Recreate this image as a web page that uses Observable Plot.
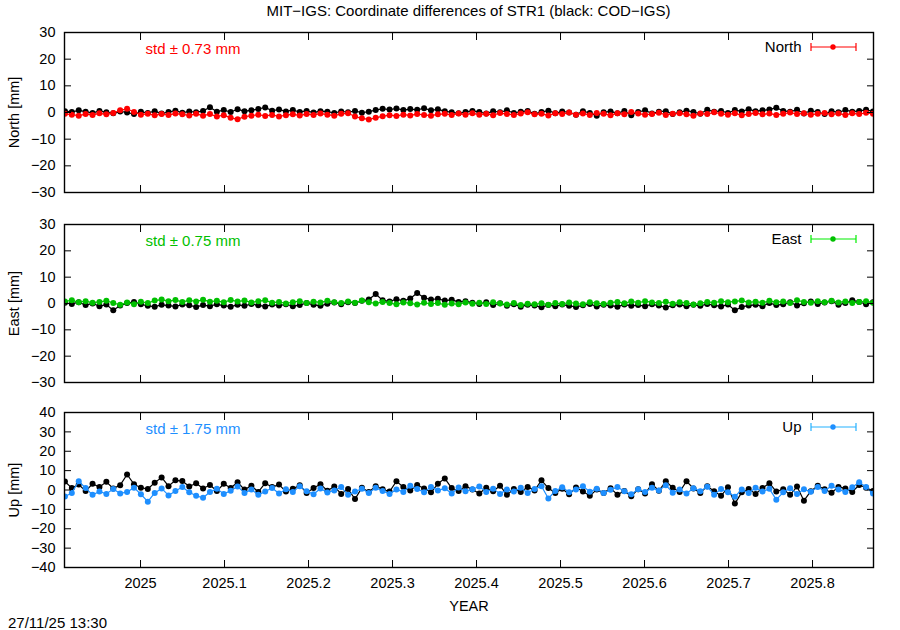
<!DOCTYPE html>
<html><head><meta charset="utf-8">
<script src="https://cdn.jsdelivr.net/npm/d3@7"></script>
<script src="https://cdn.jsdelivr.net/npm/@observablehq/plot@0.6"></script>
<style>
body{margin:0;background:#fff;}
#chart{position:relative;width:900px;height:630px;font-family:"Liberation Sans",Arial,sans-serif;font-size:15px;color:#000;overflow:hidden;background:#fff}
#chart svg{position:absolute;left:0}
.lbl{position:absolute;white-space:nowrap;line-height:1}
</style></head><body><div id="chart"></div>
<script>
const FONT = '"Liberation Sans", Arial, sans-serif';
const TITLE = "MIT\u2212IGS: Coordinate differences of STR1 (black: COD\u2212IGS)";
const CAPTION = "27/11/25 13:30";
const X_DOMAIN = [2024.9095, 2025.8726];
const T0 = 2024.91, T1 = 2025.872;
const xTicks = [2025, 2025.1, 2025.2, 2025.3, 2025.4, 2025.5, 2025.6, 2025.7, 2025.8];
const yTicksNE = [-30, -20, -10, 0, 10, 20, 30];
const yTicksU = [-40, -30, -20, -10, 0, 10, 20, 30, 40];

// North [mm]
const northMIT = [
 -0.5,-0.8,-1.2,-0.6,-0.9,-0.3,-0.7,-0.2,0.8,1.4,
 0.2,-0.8,-0.5,-1.0,-0.6,-0.9,-0.4,-0.7,-1.1,-0.5,
 -1.2,-0.6,-1.5,-1.0,-2.0,-2.5,-1.6,-1.2,-0.8,-1.3,
 -0.9,-1.5,-1.0,-0.7,-1.1,-0.6,-0.9,-0.4,-0.8,-1.2,
 -0.5,-0.3,-1.5,-2.2,-2.6,-2.0,-1.4,-1.0,-1.3,-0.8,
 -1.1,-0.6,-0.9,-1.2,-0.7,-0.5,-0.9,-0.4,-0.8,-0.3,
 -0.8,-0.5,-1.0,-0.2,-0.6,-0.9,-0.4,0.1,-0.7,-0.5,
 -1.1,-0.3,-0.6,0.0,-0.8,-0.4,-0.9,-0.2,-0.5,-1.0,
 -0.3,-0.7,0.2,-0.4,-0.8,-0.6,-0.1,-0.9,-0.5,-0.3,
 -0.7,-1.2,-0.4,-0.6,0.1,-0.5,-0.8,-0.3,-1.0,-0.6,
 -0.2,-0.7,-0.4,-0.9,-0.5,0.0,-0.6,-0.3,-0.8,-0.5,
 -0.2,-0.7,-0.4,-0.9,-0.3,-0.6,-0.1,-0.5];
const northCOD = [
 0.5,0.2,0.8,0.3,-0.2,0.6,0.1,-0.3,0.4,0.0,
 -0.6,0.3,-0.2,0.5,-0.4,0.2,0.7,-0.1,0.4,0.1,
 0.6,2.0,0.3,0.9,0.2,1.2,0.5,0.8,1.3,1.9,
 0.7,1.1,0.4,0.9,0.2,0.6,0.0,0.5,0.3,-0.2,
 0.4,0.1,0.6,-0.1,0.3,0.9,1.4,1.1,1.5,0.9,
 1.3,1.0,1.6,0.8,1.2,0.5,0.1,-0.3,0.2,0.6,
 0.2,-0.4,0.5,0.1,0.8,-0.2,0.3,0.6,-0.5,0.2,
 0.7,-0.3,0.4,0.0,-0.8,0.5,-0.2,-1.2,0.1,0.4,
 -0.3,0.6,-1.0,0.2,0.8,-0.4,0.3,0.5,-0.6,0.1,
 0.7,0.2,-0.5,1.0,0.3,0.6,-0.2,0.9,0.4,1.2,
 0.5,0.8,1.1,1.8,0.6,0.3,1.0,-0.4,0.7,0.2,
 -0.6,0.5,0.1,0.9,0.3,0.6,1.0,0.4];

// East [mm]
const eastMIT = [
 0.8,1.2,0.5,0.9,0.3,0.6,1.0,0.2,-0.5,0.4,
 -0.3,0.7,0.2,1.1,1.5,0.9,1.3,0.6,1.2,0.8,
 1.4,0.7,1.0,0.5,1.3,0.8,1.1,0.4,0.9,1.2,
 0.3,0.6,0.0,0.5,0.9,0.2,0.7,0.4,1.0,0.5,
 0.2,0.8,0.3,1.1,0.5,0.0,0.6,0.2,-0.3,0.4,
 0.1,-0.4,0.3,-0.2,0.2,-0.5,0.0,-0.3,0.4,-0.1,
 0.3,-0.2,0.5,0.0,-0.4,0.2,-0.6,-0.1,-0.3,0.1,
 -0.5,0.2,-0.2,0.4,0.0,-0.3,0.5,0.1,-0.2,0.3,
 0.6,0.1,0.8,0.3,0.9,0.4,0.2,0.7,-0.1,0.5,
 0.2,-0.4,0.1,0.6,0.3,0.9,0.5,0.8,1.1,0.4,
 0.7,0.3,1.0,0.5,0.8,0.2,1.2,0.6,0.3,0.9,
 0.5,1.0,0.4,0.8,0.2,0.6,0.9,0.3];
const eastCOD = [
 0.3,-0.2,0.5,-0.6,0.0,-1.0,-0.4,-2.6,-0.8,0.2,
 0.6,-0.3,-0.9,-1.2,-0.5,-0.8,-1.1,-0.4,-0.7,-1.3,
 -0.6,-1.0,-0.3,-0.8,-1.2,-0.5,-0.9,-0.2,-0.7,-1.1,
 -0.4,-0.8,-0.3,-1.0,-0.6,0.2,-0.5,-0.9,-0.1,0.4,
 -0.3,0.5,0.2,1.0,1.5,3.6,1.2,0.8,1.6,1.0,
 1.9,4.0,2.2,1.5,1.8,1.1,1.4,0.6,0.9,0.3,
 -0.2,0.5,-0.6,0.1,-0.9,-0.3,-1.2,-0.5,-0.8,-1.4,
 -0.6,-1.0,-0.4,-0.9,-1.3,-0.7,-0.2,-1.1,-0.5,-0.8,
 -1.2,-0.4,-0.9,-0.6,-1.0,-0.3,-0.8,-1.5,-0.7,-0.4,
 -1.0,-0.5,-0.9,-0.2,-0.7,-1.1,-0.4,-2.6,-1.3,-0.8,
 -0.5,-1.0,0.2,-0.6,-0.3,0.5,-0.8,0.1,0.8,-0.2,
 0.4,0.9,-0.5,0.2,1.2,0.6,-0.3,0.5];

// Up [mm]
const upMIT = [
 -3.4,-1.5,4.5,1.0,-2.5,-0.8,-2.0,0.5,-1.8,-1.0,
 1.2,-2.2,-6.0,-1.5,0.8,-2.8,-0.5,1.5,-1.2,-3.0,
 -4.0,-1.0,0.6,-2.0,-0.4,1.8,-1.5,0.2,-2.5,-0.8,
 1.0,-1.8,0.4,-1.0,2.0,-0.6,-2.2,0.8,-1.3,-0.2,
 1.5,-2.5,-0.8,0.6,-1.5,1.2,-0.5,-2.0,0.3,-1.0,
 2.2,0.5,-1.2,1.6,-0.3,0.9,-1.8,1.3,-0.6,0.4,
 1.8,-1.0,0.7,-2.0,0.2,-0.8,1.2,-1.5,0.5,1.9,
 -4.4,-0.5,1.4,-1.2,0.3,2.0,-0.9,0.6,-1.6,0.1,
 1.5,-0.7,-2.2,0.4,-1.0,1.1,-0.3,2.5,-1.4,0.2,
 -1.8,0.9,-0.6,1.7,-2.4,0.5,-1.1,-3.5,0.3,-1.5,
 1.2,-0.8,0.6,-5.0,-1.2,0.9,-2.0,0.4,-0.9,1.6,
 -0.5,2.2,0.3,-1.0,1.4,4.0,1.5,-1.8];
const upCOD = [
 4.4,1.0,2.8,-0.5,3.2,1.5,4.2,0.8,2.5,8.0,
 3.0,1.2,0.5,3.8,6.5,2.0,5.0,4.6,1.8,3.5,
 0.8,2.6,-0.5,3.2,1.0,4.0,0.2,2.2,-1.0,3.5,
 1.5,2.8,-0.8,0.6,2.4,-1.5,1.0,3.0,-0.4,1.8,
 -2.0,0.5,-4.7,1.2,-1.0,2.0,0.4,-0.8,4.5,1.5,
 -0.3,2.6,0.8,-1.2,3.2,6.0,1.0,-0.5,2.0,0.3,
 -1.8,1.2,-0.6,2.2,-2.5,0.5,-1.0,1.6,-0.2,5.0,
 1.0,-1.5,0.6,-2.2,1.3,-0.8,-3.0,0.2,-1.6,0.9,
 -2.4,-0.5,-3.2,0.4,-1.8,3.0,-0.4,4.5,1.2,-1.0,
 4.5,0.8,-1.5,2.0,-0.6,-3.0,1.4,-7.0,-1.2,0.5,
 -2.0,1.0,3.5,-0.8,0.4,-2.5,1.8,-5.5,-0.6,2.2,
 0.4,-1.4,1.6,0.8,-1.0,2.6,1.2,-0.5];

const components = ["North", "East", "Up"];
const yLabels = ["North [mm]", "East [mm]", "Up [mm]"];
const stdTexts = ["std \u00b1 0.73 mm", "std \u00b1 0.75 mm", "std \u00b1 1.75 mm"];
const colors = ["#ff0000", "#00c000", "#1e8fff"];

const panels = [
  {mit: northMIT, cod: northCOD, yDomain: [-30, 30], yTicks: yTicksNE, top: 0, height: 200, mt: 32, mb: 8, showX: false},
  {mit: eastMIT, cod: eastCOD, yDomain: [-30, 30], yTicks: yTicksNE, top: 192, height: 198, mt: 32, mb: 8, showX: false},
  {mit: upMIT, cod: upCOD, yDomain: [-40, 40], yTicks: yTicksU, top: 382, height: 248, mt: 30, mb: 63, showX: true}
];

const chart = document.getElementById("chart");
const toRows = arr => arr.map((v, i) => ({t: T0 + i * (T1 - T0) / (arr.length - 1), v}));
const blank = () => "";
const fmtX = d3.format(".1~f");

panels.forEach((p, k) => {
  const color = colors[k];
  const mit = toRows(p.mit), cod = toRows(p.cod);
  const marks = [
    Plot.line(cod, {x: "t", y: "v", stroke: "black", strokeWidth: 1.2, clip: true}),
    Plot.dot(cod, {x: "t", y: "v", r: 3, fill: "black", clip: true}),
    Plot.line(mit, {x: "t", y: "v", stroke: color, strokeWidth: 1.2, clip: true}),
    Plot.dot(mit, {x: "t", y: "v", r: 3, fill: color, clip: true}),
    Plot.frame({stroke: "black", strokeWidth: 1.4}),
    Plot.axisY(p.yTicks, {anchor: "left", tickSize: 0, tickPadding: 9, fontSize: 14.5, label: yLabels[k], labelAnchor: "center", labelArrow: "none", labelOffset: 56}),
    Plot.axisY(p.yTicks, {anchor: "left", tickSize: -7, tickFormat: blank, label: null}),
    Plot.axisY(p.yTicks, {anchor: "right", tickSize: -7, tickFormat: blank, label: null}),
    Plot.axisX(xTicks, {anchor: "bottom", tickSize: -7, tickFormat: blank, label: null}),
    Plot.axisX(xTicks, {anchor: "top", tickSize: -7, tickFormat: blank, label: null}),
    Plot.text([stdTexts[k]], {frameAnchor: "top-left", dx: 81, dy: 17, text: d => d, fill: color, textAnchor: "start", lineAnchor: "middle", fontSize: 15}),
    Plot.text([components[k]], {frameAnchor: "top-right", dx: -72, dy: 15, text: d => d, fill: "black", textAnchor: "end", lineAnchor: "middle", fontSize: 15})
  ];
  if (p.showX) {
    marks.push(Plot.axisX(xTicks, {anchor: "bottom", tickSize: 0, tickPadding: 10, fontSize: 14.5, tickFormat: fmtX, label: "YEAR", labelAnchor: "center", labelArrow: "none", labelOffset: 43}));
  }
  const svg = Plot.plot({
    width: 900, height: p.height,
    marginLeft: 64, marginRight: 27, marginTop: p.mt, marginBottom: p.mb,
    style: {background: "transparent", fontFamily: FONT, fontSize: "15px", overflow: "visible"},
    x: {domain: X_DOMAIN},
    y: {domain: p.yDomain},
    marks
  });
  svg.style.top = p.top + "px";
  chart.appendChild(svg);

  // legend glyph (errorbar with point)
  const ly = p.top + p.mt + 15;
  const g = d3.select(chart).append("svg")
    .attr("width", 60).attr("height", 14)
    .style("left", "806px").style("top", (ly - 7) + "px");
  const lc = d3.color(color).brighter(0.6).formatHex();
  g.append("line").attr("x1", 5).attr("x2", 50).attr("y1", 7).attr("y2", 7).attr("stroke", lc).attr("stroke-width", 1.2);
  g.append("line").attr("x1", 5).attr("x2", 5).attr("y1", 3).attr("y2", 11).attr("stroke", lc).attr("stroke-width", 1.2);
  g.append("line").attr("x1", 50).attr("x2", 50).attr("y1", 3).attr("y2", 11).attr("stroke", lc).attr("stroke-width", 1.2);
  g.append("circle").attr("cx", 27).attr("cy", 7).attr("r", 2.7).attr("fill", color);
});

const title = document.createElement("div");
title.className = "lbl";
title.textContent = TITLE;
title.style.cssText = "left:0;width:937px;text-align:center;top:3px;";
chart.appendChild(title);

const cap = document.createElement("div");
cap.className = "lbl";
cap.textContent = CAPTION;
cap.style.cssText = "left:8px;top:615px;";
chart.appendChild(cap);
</script>
</body></html>
